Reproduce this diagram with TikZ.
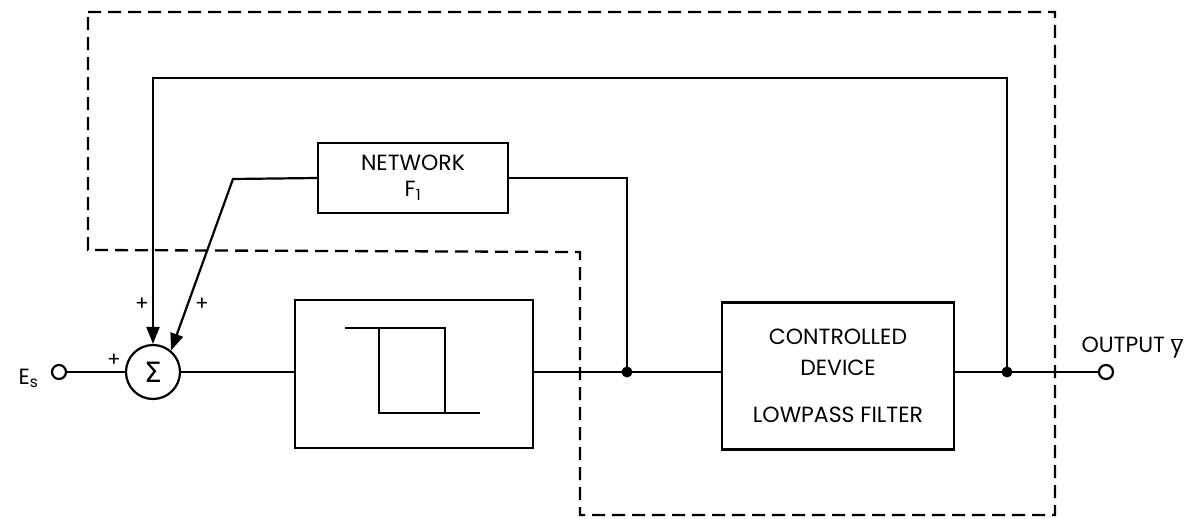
\documentclass[tikz,border=0pt]{standalone}
\usepackage{fontspec}
\setmainfont{Poppins}
\newfontfamily\symfont{DejaVu Sans}
\usetikzlibrary{arrows.meta,calc}
\begin{document}
\begin{tikzpicture}[x=1pt,y=-1pt,
  wire/.style={line width=2.2pt},
  boxstyle/.style={draw,line width=2.2pt,inner sep=0pt},
  dashline/.style={line width=2.3pt,dash pattern=on 13pt off 7pt},
  tip/.style={-{Triangle[length=17pt,width=13pt]}},
  dotstyle/.style={circle,fill,inner sep=0pt,minimum size=11pt},
  term/.style={circle,draw,line width=2.2pt,fill=white,inner sep=0pt,minimum size=14pt},
  lbl/.style={font=\fontsize{22}{26}\selectfont},
  plus/.style={font=\fontsize{20}{22}\selectfont}]
\useasboundingbox (0,0) rectangle (1197,519);
% dashed boundary
\coordinate (d1) at (88,12);
\coordinate (d2) at (1055,12);
\coordinate (d3) at (1055,515);
\coordinate (d4) at (580,515);
\coordinate (d5) at (580,252);
\coordinate (d6) at (88,250);
\draw[dashline] (d1) -- (d2) -- (d3) -- (d4) -- (d5) -- (d6) -- cycle;
% nodes
\node[term] (es) at (59,372) {};
\node[lbl,anchor=east] (eslbl) at (42,378) {E\textsubscript{s}};
\node[circle,draw,line width=2.2pt,minimum size=54pt,inner sep=0pt] (sum) at (153,372) {\symfont\fontsize{28}{28}\selectfont Σ};
\node[boxstyle,minimum width=238pt,minimum height=148pt] (hyst) at (414,374) {};
\node[boxstyle,minimum width=232pt,minimum height=147pt,lbl,align=center] (dev) at (838,376)
  {CONTROLLED\\[5pt]DEVICE\\[21pt]LOWPASS FILTER};
\node[boxstyle,minimum width=190pt,minimum height=70pt,lbl,align=center] (net) at (413,178)
  {NETWORK\\[0pt]F\textsubscript{1}};
\coordinate (j1) at (627,372);
\coordinate (j2) at (1007,372);
\node[term] (out) at (1106,372) {};
\node[lbl,anchor=west] (outlbl) at (1078,348) {OUTPUT $\overline{\mbox{y}}$};
\coordinate (tl) at (153,78);
\coordinate (bend) at (233,179);
% hysteresis symbol
\coordinate (h1) at (345,328);
\coordinate (h2) at (445,328);
\coordinate (h3) at (445,413);
\coordinate (h4) at (480,413);
\coordinate (h5) at (379,413);
\coordinate (h6) at (379,328);
\draw[wire] (h1) -- (h2) -- (h3) -- (h4);
\draw[wire] (h6) -- (h5) -- (h3);
% connectors
\draw[wire] (es) -- (sum);
\draw[wire] (sum.east) -- (hyst.west |- sum.east);
\draw[wire] (hyst.east |- j1) -- (j1) -- (dev.west |- j1);
\draw[wire] (dev.east |- j2) -- (j2) -- (out);
\draw[wire,tip] (j2) |- (tl) -- (sum.north);
\draw[wire] (j1) |- (net.east);
\draw[wire,tip] (net.west) -- (bend) -- (sum.50);
\node[dotstyle] (dot1) at (j1) {};
\node[dotstyle] (dot2) at (j2) {};
% signs
\node[plus] (p1) at (142,304) {+};
\node[plus] (p2) at (202,304) {+};
\node[plus] (p3) at (114,360) {+};
\end{tikzpicture}
\end{document}
